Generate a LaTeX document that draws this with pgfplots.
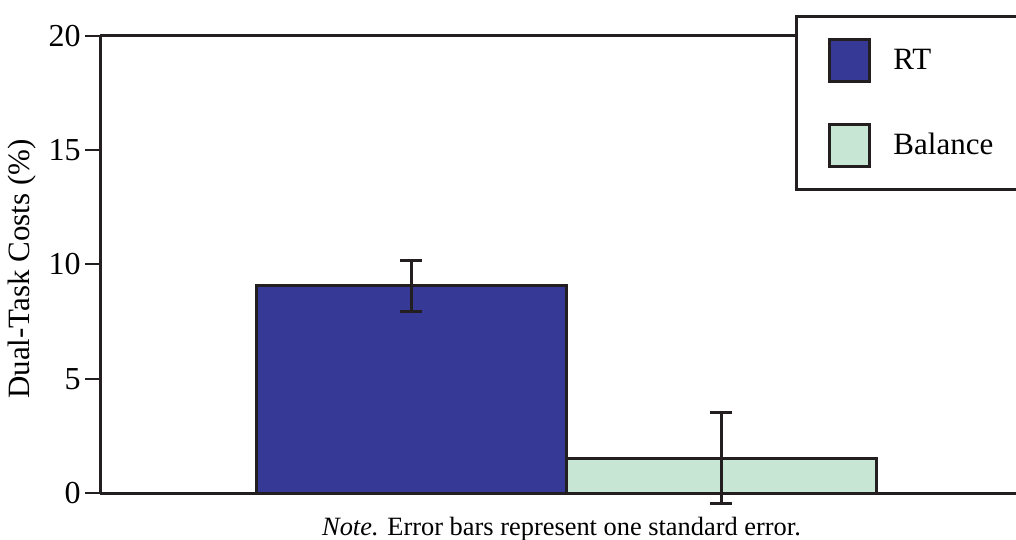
\documentclass[border=0pt]{standalone}
\usepackage{pgfplots}
\pgfplotsset{compat=1.18}
\usepackage{fontspec}
\setmainfont{Liberation Serif}
\definecolor{rtblue}{RGB}{54,57,150}
\definecolor{balgreen}{RGB}{200,230,212}
\definecolor{edge}{RGB}{35,31,32}
\begin{document}
\begin{tikzpicture}
\useasboundingbox (0,0) rectangle (508pt,270pt);
\begin{axis}[
 at={(50pt,23.5pt)}, anchor=south west,
 scale only axis, width=458pt, height=228.5pt,
 xmin=100, xmax=1016, ymin=0, ymax=20,
 axis lines=left, axis line style={-, line width=1.5pt, draw=edge},
 xtick=\empty, ytick={0,5,10,15,20},
 tick style={line width=1pt, draw=edge}, major tick length=7.5pt, tick align=outside,
 yticklabel style={font=\fontsize{16}{18}\selectfont, inner xsep=2pt},
 /pgf/number format/assume math mode=true,
 ylabel={Dual-Task Costs (\%)},
 ylabel style={font=\fontsize{15.5}{18}\selectfont, at={(axis description cs:-0.0852,0.49)}, anchor=center},
 xlabel={\textit{Note.} Error bars represent one standard error.},
 xlabel style={font=\fontsize{13.2}{15}\selectfont, at={(axis description cs:0.5038,-0.0788)}, anchor=center},
 clip=false,
 legend style={at={(axis description cs:0.7587,1.046)}, anchor=north west, draw=edge, line width=1.5pt, fill=white,
   inner xsep=0pt, inner ysep=0.75pt, row sep=0pt, column sep=0pt, nodes={inner sep=0pt},
   font=\fontsize{15.5}{18}\selectfont},
 legend cell align=left,
]
\draw[edge, line width=1.5pt] (rel axis cs:0,1) -- (rel axis cs:1,1);
\addplot[ybar, bar shift=0pt, bar width=310, fill=rtblue, draw=edge, line width=1.5pt,
  legend image code/.code={\path[draw=none, fill=none] (-16.5pt,-21.25pt) rectangle (32pt,21.25pt);
    \draw[draw=edge, fill=rtblue, line width=1.5pt, solid] (0pt,-10.5pt) rectangle (20pt,10.5pt);},
  error bars/.cd, y dir=both, y explicit,
  error bar style={line width=1.5pt, draw=edge},
  error mark options={rotate=90, mark size=5.5pt, line width=1.5pt, draw=edge}]
  coordinates {(411,9.06) +- (0,1.12)};
\addlegendentry{\makebox[65pt][l]{RT}}
\addplot[ybar, bar shift=0pt, bar width=310, fill=balgreen, draw=edge, line width=1.5pt,
  legend image code/.code={\path[draw=none, fill=none] (-16.5pt,-21.25pt) rectangle (32pt,21.25pt);
    \draw[draw=edge, fill=balgreen, line width=1.5pt, solid] (0pt,-10.5pt) rectangle (20pt,10.5pt);},
  error bars/.cd, y dir=both, y explicit,
  error bar style={line width=1.5pt, draw=edge},
  error mark options={rotate=90, mark size=5.5pt, line width=1.5pt, draw=edge}]
  coordinates {(721,1.53) +- (0,2.01)};
\addlegendentry{\makebox[65pt][l]{Balance}}
\end{axis}
\end{tikzpicture}
\end{document}
